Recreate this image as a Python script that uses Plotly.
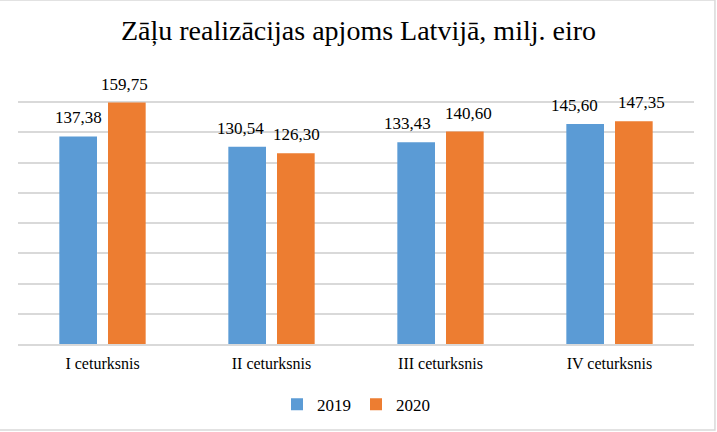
import plotly.graph_objects as go

quarters = ["I ceturksnis", "II ceturksnis", "III ceturksnis", "IV ceturksnis"]
sales_2019 = [137.38, 130.54, 133.43, 145.60]
sales_2020 = [159.75, 126.30, 140.60, 147.35]
years = ["2019", "2020"]

colors = ["#5b9bd5", "#ed7d31"]
font_name = "Liberation Serif, Times New Roman, serif"

# label nudges (px) so neighbouring labels don't collide, like Excel does
nudge_2019 = [0, -7, -9, -11]
nudge_2020 = [-2, 1, 4, 8]


def fmt(v):
    return "{:.2f}".format(v).replace(".", ",")


fig = go.Figure()
for name, vals, col in zip(years, [sales_2019, sales_2020], colors):
    fig.add_trace(go.Bar(x=quarters, y=vals, name=name, marker_color=col,
                         marker_line_width=0, hoverinfo="skip"))

# value labels above each bar
annots = []
for vals, side, nudges in [(sales_2019, -24.4, nudge_2019), (sales_2020, 24.4, nudge_2020)]:
    for q, v, n in zip(quarters, vals, nudges):
        annots.append(dict(x=q, y=v, text=fmt(v), showarrow=False,
                           xshift=side + n, yshift=7, yanchor="bottom",
                           font=dict(family=font_name, size=17, color="#000000")))

fig.update_layout(
    width=717, height=432,
    margin=dict(l=18, r=23, t=72, b=88, autoexpand=False),
    paper_bgcolor="white", plot_bgcolor="white",
    barmode="group", bargap=0.424, bargroupgap=0.226,
    title=dict(text="Zāļu realizācijas apjoms Latvijā, milj. eiro",
               x=0.5, xanchor="center", y=0.93, yanchor="middle",
               font=dict(family=font_name, size=28, color="#000000")),
    font=dict(family=font_name, size=16, color="#000000"),
    showlegend=True,
    legend=dict(orientation="h", x=0.5, xanchor="center", y=-0.223, yanchor="middle",
                font=dict(family=font_name, size=17, color="#000000"),
                itemclick=False),
    annotations=annots,
    shapes=[dict(type="rect", xref="paper", yref="paper",
                 x0=-0.04, x1=1.031, y0=-0.316, y1=1.265,
                 line=dict(color="#d9d9d9", width=1.5), layer="below")],
)
fig.update_xaxes(showgrid=False, showline=True, linecolor="#d9d9d9", linewidth=1.5,
                 ticks="", ticklabelstandoff=4, automargin=False,
                 tickfont=dict(family=font_name, size=16, color="#000000"))
fig.update_yaxes(range=[0, 180], dtick=20, showgrid=True, gridcolor="#d9d9d9",
                 gridwidth=1.5, showticklabels=False, zeroline=False, ticks="",
                 automargin=False)

# page body has a default 8px margin; drop it so the chart sits at 0,0
fig.write_html("out.html", config={"displayModeBar": False},
               post_script="document.body.style.margin='0';document.body.style.overflow='hidden';")
